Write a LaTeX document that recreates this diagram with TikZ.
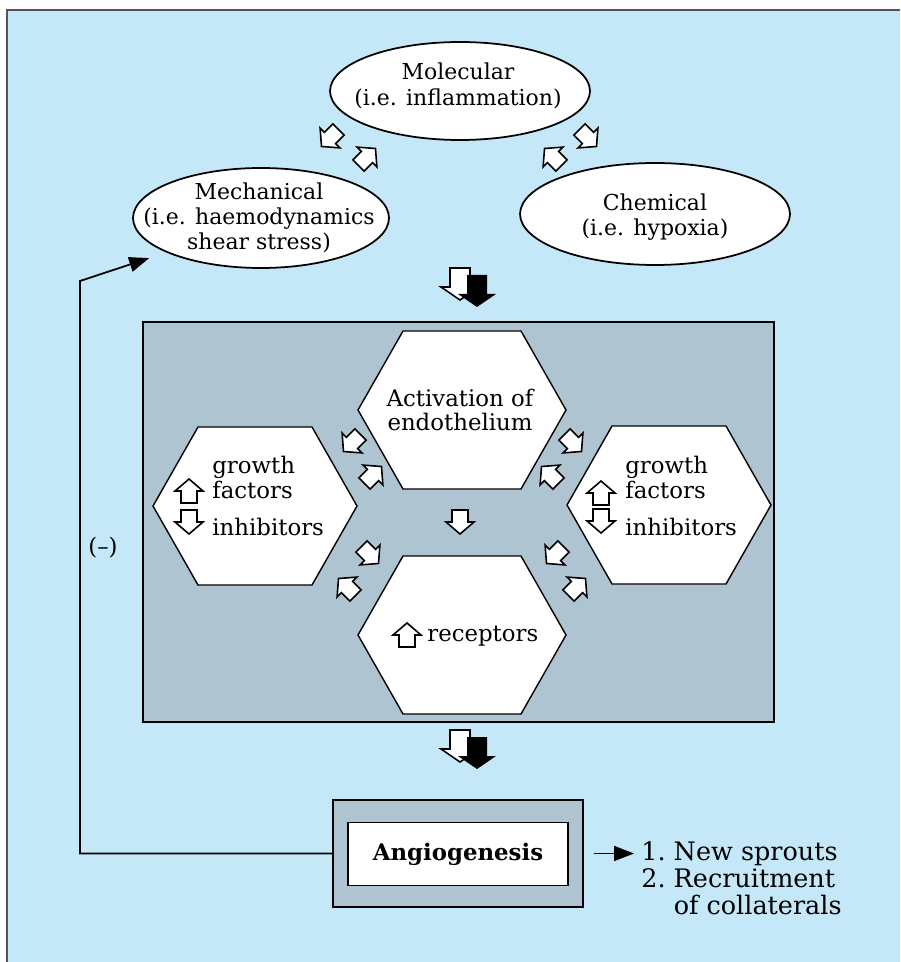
\documentclass[tikz,border=0pt]{standalone}
\usepackage{fontspec}
\setmainfont{DejaVu Serif}
\usepackage{tikz}
\usetikzlibrary{shapes.geometric}
\usetikzlibrary{arrows.meta}
\definecolor{skyblue}{RGB}{197,232,248}
\definecolor{panelgray}{RGB}{174,196,209}
\definecolor{framegray}{RGB}{85,85,85}
% hexagon: centre x, centre y, half width
\newcommand{\hexcell}[3]{\draw[hexline] (#1-#3,#2) -- (#1-#3+45,#2-79) -- (#1+#3-45,#2-79) -- (#1+#3,#2) -- (#1+#3-45,#2+79) -- (#1-#3+45,#2+79) -- cycle;}

\begin{document}
\begin{tikzpicture}[x=0.02cm, y=-0.02cm,
		stimulus/.style={ellipse, draw, line width=1pt, fill=white, inner sep=0pt},
		hexline/.style={draw, thick, fill=white, line join=miter},
		flowline/.style={line width=1pt, -{Triangle[length=0.4cm, width=0.3cm]}},
		ovaltext/.style={align=center, inner sep=0pt, font=\fontsize{12.5}{14.4}\selectfont},
		hextext/.style={inner sep=0pt, font=\fontsize{13}{14.2}\selectfont},
		smallarrow/.pic={\path[draw, fill=white, line width=0.9pt, line join=miter] (-12,-8) -- (0,-8) -- (0,-14) -- (12,0) -- (0,14) -- (0,8) -- (-12,8) -- cycle;},
		bigarrow/.pic={\path[pic actions, line join=miter] (-16,-10) -- (3,-10) -- (3,-19) -- (16,0) -- (3,19) -- (3,10) -- (-16,10) -- cycle;}]
		\useasboundingbox (0,0) rectangle (900,962);
		% Background
		\fill[skyblue] (7,10) rectangle (900,962);
		\draw[framegray, line width=1.4pt] (7,962) -- (7,10) -- (900,10);

		% Stimuli
		\node[stimulus, minimum width=5.2cm, minimum height=1.96cm] (molecular) at (460,91) {};
		\node[ovaltext] (molecular_label) at (458,86) {Molecular\\(i.e. inflammation)};
		\node[stimulus, minimum width=5.12cm, minimum height=2cm] (mech) at (261,218) {};
		\node[ovaltext] (mech_label) at (259,218) {Mechanical\\(i.e. haemodynamics\\shear stress)};
		\node[stimulus, minimum width=5.4cm, minimum height=2.04cm] (chem) at (655,214) {};
		\node[ovaltext] (chem_label) at (655,217) {Chemical\\(i.e. hypoxia)};

		\pic[rotate=-135] at (330,138) {smallarrow};
		\pic[rotate=45] at (367,157) {smallarrow};
		\pic[rotate=-45] at (588,138) {smallarrow};
		\pic[rotate=135] at (553,157) {smallarrow};

		\pic[draw, fill=white, line width=0.9pt, rotate=-90] at (460,284) {bigarrow};
		\pic[fill=black, rotate=-90] at (477,291) {bigarrow};

		% Endothelial response
		\node[draw, thick, fill=panelgray, minimum width=12.62cm, minimum height=8cm] (panel) at (458.5,522) {};
		\hexcell{462}{410}{104}
		\hexcell{255}{506}{102}
		\hexcell{669}{505}{102}
		\hexcell{462}{635}{104}
		\node[hextext, align=center] (activation) at (460,410) {Activation of\\endothelium};
		\node[hextext, align=left, anchor=west] (left_factors) at (212,496) {growth\\factors\\[6.8pt]inhibitors};
		\node[hextext, align=left, anchor=west] (right_factors) at (625,496) {growth\\factors\\[6.8pt]inhibitors};
		\node[hextext, anchor=base west] (receptors) at (427,641) {receptors};
		\pic[rotate=90] at (189,491) {smallarrow};
		\pic[rotate=-90] at (189,522) {smallarrow};
		\pic[rotate=90] at (601,493) {smallarrow};
		\pic[rotate=-90] at (601,521) {smallarrow};
		\pic[rotate=90] at (407,635) {smallarrow};

		\pic[rotate=-135] at (352,443) {smallarrow};
		\pic[rotate=45] at (373,475) {smallarrow};
		\pic[rotate=-45] at (573,443) {smallarrow};
		\pic[rotate=135] at (550,475) {smallarrow};
		\pic[rotate=-90] at (460,522) {smallarrow};
		\pic[rotate=-45] at (370,555) {smallarrow};
		\pic[rotate=135] at (347,587) {smallarrow};
		\pic[rotate=-135] at (555,555) {smallarrow};
		\pic[rotate=45] at (577,587) {smallarrow};

		\pic[draw, fill=white, line width=0.9pt, rotate=-90] at (460,746) {bigarrow};
		\pic[fill=black, rotate=-90] at (477,753) {bigarrow};

		% Outcome
		\node[draw, thick, fill=panelgray, minimum width=5cm, minimum height=2.14cm] (angio_frame) at (458,853.5) {};
		\node[draw, thick, fill=white, minimum width=4.4cm, minimum height=1.26cm, font=\fontsize{13}{14}\selectfont\bfseries] (angio) at (458,854) {Angiogenesis};
		\node[anchor=west, inner sep=0pt, font=\fontsize{14.5}{15}\selectfont] (outcome) at (641,882) {\begin{tabular}{@{}r@{\ }l@{}}1. & New sprouts\\2. & Recruitment\\ & of collaterals\end{tabular}};
		\draw[flowline, shorten <=0.2cm, shorten >=0.14cm] (angio_frame.east) -- (outcome.west |- angio_frame.east);

		% Feedback
		\draw[flowline, shorten >=0.36cm] (angio_frame.west) -| (80,281) -- (mech.200);
		\node[font=\fontsize{13}{14}\selectfont] (feedback_label) at (103,548) {(–)};
	\end{tikzpicture}
\end{document}
